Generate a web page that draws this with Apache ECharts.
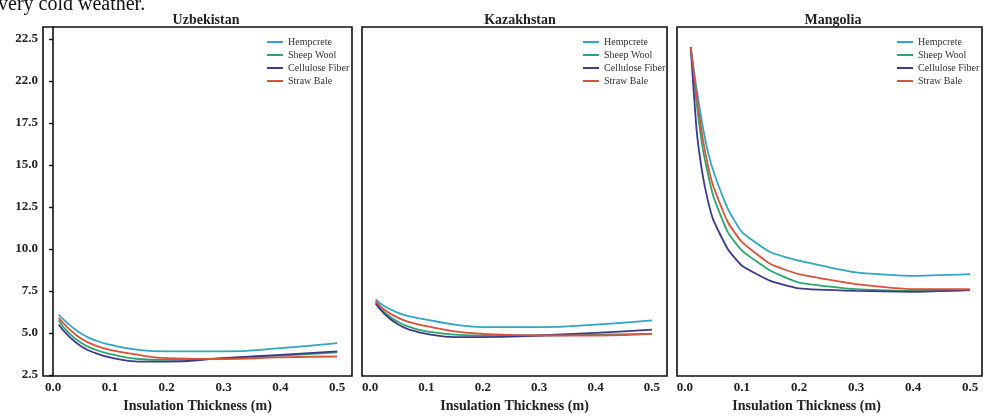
<!DOCTYPE html>
<html>
<head>
<meta charset="utf-8">
<script src="https://cdn.jsdelivr.net/npm/echarts@6/dist/echarts.min.js"></script>
<style>
  html, body { margin: 0; padding: 0; background: #fff; }
  #chart { width: 984px; height: 418px; }
</style>
</head>
<body>
<div id="chart"></div>
<script>
const panels = ['Uzbekistan', 'Kazakhstan', 'Mangolia'];
const materials = ['Hempcrete', 'Sheep Wool', 'Cellulose Fiber', 'Straw Bale'];
const colors = ['#2ea6c4', '#2ca66e', '#3d3a8e', '#d9523a'];

const xTickValues = [0, 0.1, 0.2, 0.3, 0.4, 0.5];
const yTickValues = [2.5, 5, 7.5, 10, 12.5, 15, 17.5, 20, 22.5];
const yTickLabels = ['2.5', '5.0', '7.5', '10.0', '12.5', '15.0', '17.5', '22.0', '22.5'];

// thickness samples (m)
const xSmall = [0.01, 0.025, 0.05, 0.075, 0.1, 0.15, 0.2, 0.3, 0.4, 0.5];
const xMangolia = [0.01, 0.02, 0.03, 0.04, 0.05, 0.075, 0.1, 0.15, 0.2, 0.3, 0.4, 0.5];

// Uzbekistan
const uzbHempcrete = [6.1, 5.6, 4.95, 4.55, 4.3, 4.0, 3.9, 3.9, 4.1, 4.4];
const uzbSheepWool = [5.75, 5.1, 4.4, 4.0, 3.75, 3.45, 3.4, 3.5, 3.65, 3.85];
const uzbCellulose = [5.5, 4.9, 4.2, 3.8, 3.55, 3.3, 3.3, 3.5, 3.7, 3.9];
const uzbStrawBale = [5.9, 5.35, 4.65, 4.25, 4.0, 3.7, 3.5, 3.45, 3.55, 3.6];

// Kazakhstan
const kazHempcrete = [7.0, 6.6, 6.2, 5.95, 5.8, 5.5, 5.35, 5.35, 5.5, 5.75];
const kazSheepWool = [6.8, 6.25, 5.65, 5.3, 5.1, 4.9, 4.85, 4.85, 4.9, 4.95];
const kazCellulose = [6.75, 6.15, 5.5, 5.15, 4.95, 4.75, 4.75, 4.85, 5.0, 5.2];
const kazStrawBale = [6.9, 6.4, 5.9, 5.6, 5.4, 5.1, 4.95, 4.85, 4.85, 4.95];

// Mangolia
const monHempcrete = [22.0, 19.6, 17.5, 15.8, 14.6, 12.4, 11.0, 9.8, 9.3, 8.6, 8.4, 8.5];
const monSheepWool = [22.0, 18.8, 16.2, 14.5, 13.1, 11.0, 9.9, 8.7, 8.0, 7.6, 7.5, 7.55];
const monCellulose = [22.0, 17.2, 14.6, 12.9, 11.7, 10.0, 9.0, 8.1, 7.65, 7.5, 7.45, 7.55];
const monStrawBale = [22.0, 19.2, 16.8, 15.0, 13.7, 11.6, 10.4, 9.1, 8.5, 7.9, 7.6, 7.6];

const panelData = [
  { x: xSmall, ys: [uzbHempcrete, uzbSheepWool, uzbCellulose, uzbStrawBale] },
  { x: xSmall, ys: [kazHempcrete, kazSheepWool, kazCellulose, kazStrawBale] },
  { x: xMangolia, ys: [monHempcrete, monSheepWool, monCellulose, monStrawBale] }
];

const grids = [
  { left: 43, top: 27, width: 309, height: 353, xMin: -0.0176, xMax: 0.526, legendLeft: 267, titleX: 201, namePad: 0 },
  { left: 362, top: 27, width: 305, height: 353, xMin: -0.0142, xMax: 0.5266, legendLeft: 583, titleX: 515, namePad: 0 },
  { left: 677, top: 27, width: 305, height: 353, xMin: -0.014, xMax: 0.521, legendLeft: 897, titleX: 828, namePad: 46 }
];

const serif = '"Liberation Serif", "Times New Roman", serif';

const chart = echarts.init(document.getElementById('chart'));

const series = [];
panelData.forEach((p, gi) => {
  p.ys.forEach((arr, si) => {
    series.push({
      name: materials[si],
      type: 'line',
      xAxisIndex: gi,
      yAxisIndex: gi,
      data: p.x.map((x, i) => [x, arr[i]]),
      smooth: gi === 2 ? 0.15 : 0.5,
      showSymbol: false,
      lineStyle: { color: colors[si], width: 1.8 },
      itemStyle: { color: colors[si] },
      z: 3
    });
  });
});

chart.setOption({
  animation: false,
  backgroundColor: '#fff',
  graphic: [{
    type: 'text',
    left: -2,
    top: -5,
    style: { text: 'very cold weather.', font: '20px ' + serif, fill: '#111' }
  }],
  title: panels.map((t, i) => ({
    text: t,
    left: grids[i].titleX,
    top: 8,
    textAlign: 'center',
    textStyle: { fontFamily: serif, fontWeight: 'bold', fontSize: 14, color: '#222' }
  })),
  legend: grids.map(g => ({
    data: materials,
    orient: 'vertical',
    left: g.legendLeft,
    top: 36,
    icon: 'rect',
    itemWidth: 16,
    itemHeight: 2,
    itemGap: 1,
    padding: 0,
    textStyle: { fontFamily: serif, fontSize: 10, color: '#333', lineHeight: 12 }
  })),
  grid: grids.map(g => ({
    left: g.left, top: g.top, width: g.width, height: g.height,
    show: true, borderColor: '#111', borderWidth: 1.6, backgroundColor: 'transparent'
  })),
  xAxis: grids.map((g, i) => ({
    type: 'value',
    gridIndex: i,
    min: g.xMin,
    max: g.xMax,
    name: 'Insulation Thickness (m)',
    nameLocation: 'middle',
    nameGap: 23,
    nameTextStyle: { fontFamily: serif, fontWeight: 'bold', fontSize: 14, color: '#222', padding: [0, g.namePad, 0, 0] },
    axisLine: { show: false },
    axisTick: { show: false },
    splitLine: { show: false },
    axisLabel: {
      customValues: xTickValues,
      formatter: v => v.toFixed(1),
      margin: 5,
      fontFamily: serif, fontWeight: 'bold', fontSize: 13, color: '#222'
    }
  })),
  yAxis: grids.map((g, i) => ({
    type: 'value',
    gridIndex: i,
    min: 2.44,
    max: 23.2,
    axisLine: { show: i === 0, lineStyle: { color: '#111', width: 1.6 } },
    axisTick: { show: i === 0, customValues: yTickValues, length: 4, lineStyle: { color: '#111', width: 1.4 } },
    splitLine: { show: false },
    axisLabel: {
      show: i === 0,
      customValues: yTickValues,
      formatter: v => yTickLabels[yTickValues.indexOf(v)],
      margin: 5,
      fontFamily: serif, fontWeight: 'bold', fontSize: 13, color: '#222'
    }
  })),
  series: series
});
</script>
</body>
</html>
